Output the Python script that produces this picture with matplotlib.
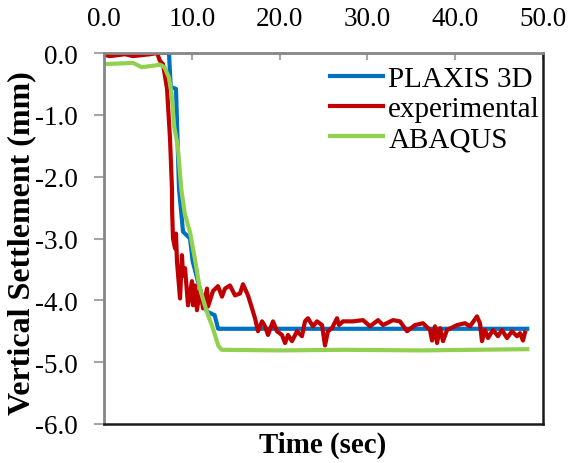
import matplotlib
matplotlib.use("Agg")
import matplotlib.pyplot as plt

plt.rcParams['font.family'] = ['Liberation Serif', 'DejaVu Serif']

# PLAXIS 3D
plaxis_t = [0.0, 7.4, 7.6, 8.2, 8.54, 9.0, 9.8, 10.1, 10.9, 11.7, 12.6, 13.0, 48.2]
plaxis_s = [0.0, 0.0, -0.55, -0.58, -2.19, -2.89, -3.0, -3.37, -3.8, -4.18, -4.24, -4.46, -4.46]

# ABAQUS
abaqus_t = [0.0, 3.3, 4.3, 6.4, 6.9, 7.4, 7.7, 8.0, 8.4, 8.8, 9.2, 9.8, 10.4, 10.9,
            11.7, 12.4, 13.0, 13.4, 20.0, 27.5, 36.0, 48.2]
abaqus_s = [-0.18, -0.16, -0.23, -0.19, -0.23, -0.40, -0.66, -1.2, -1.5, -2.2, -2.6,
            -2.9, -3.37, -3.8, -4.18, -4.45, -4.73, -4.8, -4.81, -4.80, -4.81, -4.79]

# experimental
exp_t = [0.0, 0.68, 2.39, 3.30, 5.24, 6.04, 6.38, 6.72, 7.18, 7.52, 7.74, 7.76, 7.86,
         8.09, 8.2, 8.31, 8.66, 8.88, 9.0, 9.23, 9.57, 10.02, 10.14, 10.36, 10.59,
         10.93, 11.28, 11.73, 11.85, 12.41, 12.98, 13.44, 13.78, 14.35, 14.92, 15.49,
         15.83, 16.4, 16.86, 17.2, 17.54, 18.0, 18.34, 18.68, 19.25, 19.7, 20.27,
         20.62, 20.96, 21.41, 21.98, 22.55, 22.89, 23.23, 23.8, 24.26, 24.83, 25.17,
         25.51, 25.97, 26.54, 26.77, 27.22, 28.36, 29.5, 30.3, 31.21, 31.78, 32.92,
         33.71, 34.51, 35.42, 36.33, 37.13, 37.36, 37.7, 37.93, 38.27, 38.61, 39.07,
         40.21, 41.12, 41.69, 42.48, 42.82, 43.05, 43.39, 43.74, 44.3, 44.87, 45.33,
         45.9, 46.47, 47.04, 47.38, 47.72, 47.95]
exp_s = [-0.03, -0.05, -0.02, -0.05, -0.02, 0.0, -0.13, -0.18, -0.58, -1.39, -2.19,
         -2.56, -3.0, -3.16, -2.92, -3.37, -3.97, -3.27, -3.6, -3.48, -4.08, -3.69,
         -4.08, -3.76, -4.16, -3.81, -4.13, -3.81, -4.10, -3.85, -3.77, -3.94, -3.81,
         -3.76, -3.92, -3.89, -3.74, -3.92, -4.13, -4.29, -4.5, -4.34, -4.42, -4.56,
         -4.34, -4.5, -4.56, -4.69, -4.56, -4.66, -4.5, -4.58, -4.34, -4.29, -4.42,
         -4.34, -4.40, -4.73, -4.5, -4.45, -4.29, -4.40, -4.34, -4.34, -4.32, -4.42,
         -4.32, -4.40, -4.32, -4.34, -4.5, -4.40, -4.37, -4.48, -4.65, -4.42, -4.69,
         -4.45, -4.66, -4.48, -4.40, -4.37, -4.42, -4.26, -4.37, -4.66, -4.48, -4.61,
         -4.48, -4.58, -4.48, -4.61, -4.5, -4.58, -4.53, -4.65, -4.52]

x_ticks = [0, 10, 20, 30, 40, 50]
y_ticks = [0, -1, -2, -3, -4, -5, -6]

fig = plt.figure(figsize=(5.69, 4.64), dpi=100)
ax = fig.add_axes([104/569, 1 - 425/464, (543-104)/569, (425-54)/464])

lw = 3.0
ax.plot(plaxis_t, plaxis_s, color='#0070C0', lw=lw, label='PLAXIS 3D', solid_joinstyle='round')
ax.plot(exp_t, exp_s, color='#C00000', lw=lw, label='experimental', solid_joinstyle='round')
ax.plot(abaqus_t, abaqus_s, color='#92D050', lw=lw, label='ABAQUS', solid_joinstyle='round')

ax.set_xlim(0, 50)
ax.set_ylim(-6, 0)
ax.xaxis.tick_top()
ax.set_xticks(x_ticks)
ax.set_xticklabels([f"{v:.1f}" for v in x_ticks])
ax.set_yticks(y_ticks)
ax.set_yticklabels([f"{v:.1f}" for v in y_ticks])

ax.tick_params(axis='x', direction='in', length=5, width=1.5, color='#a6a6a6',
               labelsize=19.5, pad=16)
ax.tick_params(axis='y', direction='out', length=7, width=1.5, color='#a6a6a6',
               labelsize=19.5, pad=12)

for side in ['left', 'top']:
    ax.spines[side].set_color('#868686')
    ax.spines[side].set_linewidth(2.0)
for side in ['right', 'bottom']:
    ax.spines[side].set_color('#1a1a1a')
    ax.spines[side].set_linewidth(1.8)

fig.text(323/569, 1 - 445/464, 'Time (sec)', ha='center', va='center',
         fontsize=20.8, fontweight='bold')
fig.text(22/569, 1 - 243/464, 'Vertical Settlement (mm)', ha='center', va='center',
         rotation=90, fontsize=23, fontweight='bold')

leg = fig.legend(loc='upper left', bbox_to_anchor=(330/569, 1 - 67/464),
                 frameon=False, fontsize=21, handlelength=1.8, handletextpad=0.2,
                 labelspacing=0.12, borderpad=0, borderaxespad=0)

fig.savefig('out.png', dpi=100)
